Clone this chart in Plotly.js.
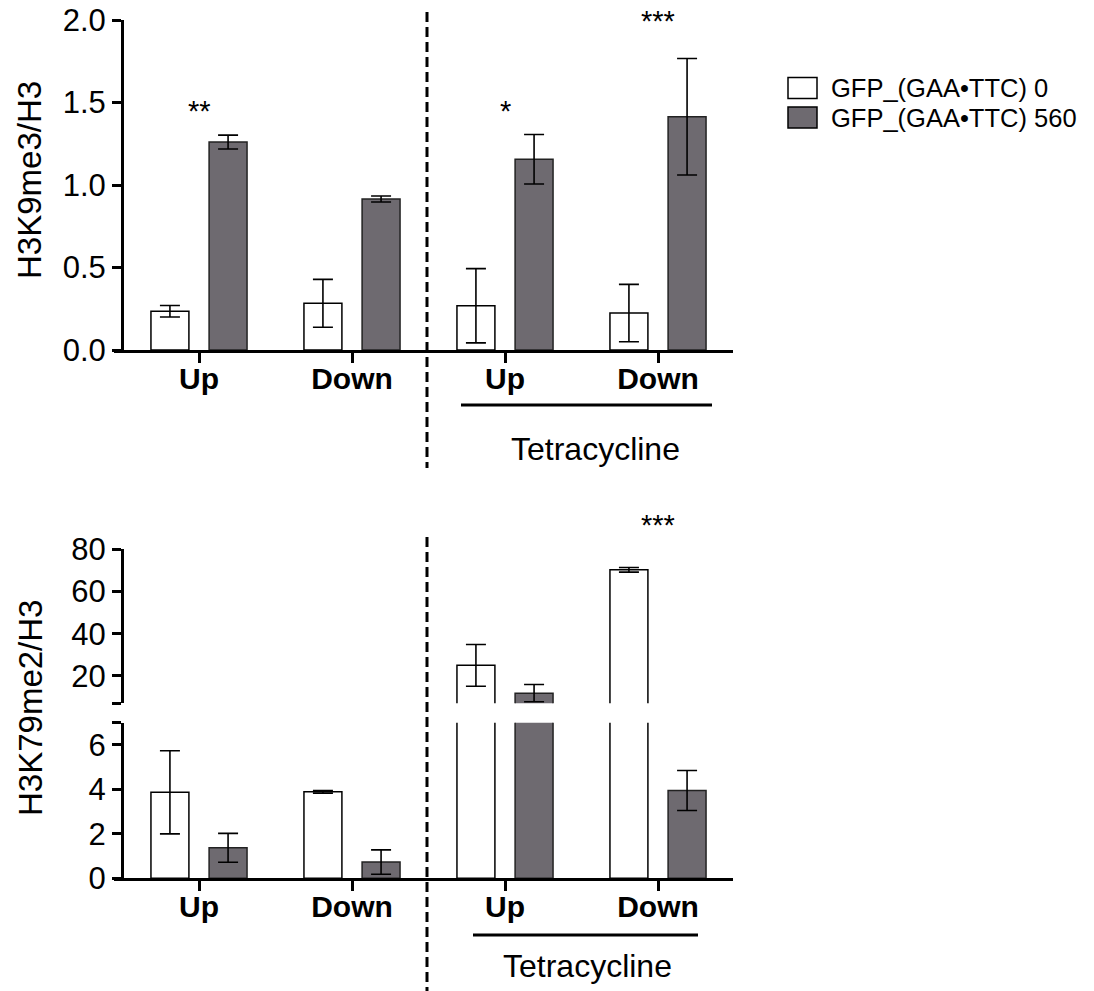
<!DOCTYPE html>
<html>
<head>
<meta charset="utf-8">
<script src="https://cdn.plot.ly/plotly-3.0.1.min.js"></script>
<style>html,body{margin:0;padding:0;background:#fff;}#chart{width:1094px;height:991px;}</style>
</head>
<body>
<div id="chart"></div>
<script>
// ---- data ----
const categories = ['Up', 'Down', 'Up', 'Down'];
const seriesNames = ['GFP_(GAA•TTC) 0', 'GFP_(GAA•TTC) 560'];
const groupLabel = 'Tetracycline';
const k9Title = 'H3K9me3/H3';
const k79Title = 'H3K79me2/H3';

const k9_gfp0 = [0.235, 0.283, 0.268, 0.224];
const k9_gfp0_err = [0.035, 0.145, 0.225, 0.174];
const k9_gfp560 = [1.26, 0.915, 1.156, 1.414];
const k9_gfp560_err = [0.042, 0.018, 0.15, 0.353];

const k79_gfp0 = [3.87, 3.89, 25.0, 70.3];
const k79_gfp0_err = [1.87, 0.06, 9.9, 1.1];
const k79_gfp560 = [1.37, 0.73, 11.8, 3.95];
const k79_gfp560_err = [0.65, 0.55, 4.1, 0.9];

const k9_sig = ['**', '', '*', '***'];
const k79_sig = ['', '', '', '***'];

const k9TickVals = [0, 0.5, 1.0, 1.5, 2.0];
const k79UpperTicks = [20, 40, 60, 80];
const k79LowerTicks = [0, 2, 4, 6];

// ---- layout helpers (pixel -> paper) ----
const W = 1094, H = 991;
const px = v => v / W;
const py = v => 1 - v / H;
const FONT = 'Liberation Sans, Arial, Helvetica, sans-serif';
const GRAY = '#6e6a70';
const xs = categories.map((_, i) => i);

function bar(name, y, err, color, lineColor, xa, ya) {
  return {
    type: 'bar', name: name, x: xs, y: y,
    xaxis: xa, yaxis: ya, showlegend: false,
    marker: { color: color, line: { color: lineColor, width: 1.5 } },
    error_y: { type: 'data', array: err, visible: true, color: '#000', thickness: 1.6, width: 10 },
    hoverinfo: 'skip'
  };
}

const data = [
  bar(seriesNames[0], k9_gfp0, k9_gfp0_err, '#ffffff', '#000', 'x', 'y'),
  bar(seriesNames[1], k9_gfp560, k9_gfp560_err, GRAY, '#222', 'x', 'y'),
  bar(seriesNames[0], k79_gfp0, k79_gfp0_err, '#ffffff', '#000', 'x2', 'y2'),
  bar(seriesNames[1], k79_gfp560, k79_gfp560_err, GRAY, '#222', 'x2', 'y2'),
  bar(seriesNames[0], k79_gfp0, k79_gfp0_err, '#ffffff', '#000', 'x2', 'y3'),
  bar(seriesNames[1], k79_gfp560, k79_gfp560_err, GRAY, '#222', 'x2', 'y3')
];

const xRange = [-85 / 153, 534 / 153];
const xDomain = [px(114), px(733)];
const axisLine = { showline: true, linecolor: '#000', linewidth: 3, showgrid: false, zeroline: false, ticks: 'outside', tickcolor: '#000', tickwidth: 3 };

function xAxis(anchor) {
  return Object.assign({}, axisLine, {
    domain: xDomain, range: xRange, anchor: anchor, ticklen: 10,
    tickmode: 'array', tickvals: xs, ticktext: categories,
    tickfont: { family: FONT, size: 30, color: '#000', weight: 'bold' },
    ticklabelstandoff: -10,
    automargin: false, fixedrange: true
  });
}
function yAxis(domain, range, vals, text) {
  return Object.assign({}, axisLine, {
    domain: domain, range: range, anchor: 'free', position: px(122), ticklen: 9,
    tickmode: 'array', tickvals: vals, ticktext: text,
    tickfont: { family: FONT, size: 31, color: '#000' },
    automargin: false, fixedrange: true
  });
}

const shapes = [];
const annotations = [];
// dashed separators
shapes.push({ type: 'line', xref: 'paper', yref: 'paper', x0: px(427), x1: px(427), y0: py(12), y1: py(468), line: { color: '#000', width: 3, dash: '10px,5px' } });
shapes.push({ type: 'line', xref: 'paper', yref: 'paper', x0: px(427), x1: px(427), y0: py(537), y1: py(991), line: { color: '#000', width: 3, dash: '10px,5px' } });
// tetracycline bars
shapes.push({ type: 'line', xref: 'paper', yref: 'paper', x0: px(461), x1: px(712), y0: py(405), y1: py(405), line: { color: '#000', width: 3 } });
shapes.push({ type: 'line', xref: 'paper', yref: 'paper', x0: px(473), x1: px(698), y0: py(935), y1: py(935), line: { color: '#000', width: 3 } });
annotations.push({ text: groupLabel, xref: 'paper', yref: 'paper', x: px(595), y: py(449), showarrow: false, xanchor: 'center', yanchor: 'middle', font: { family: FONT, size: 32, color: '#000' } });
annotations.push({ text: groupLabel, xref: 'paper', yref: 'paper', x: px(587), y: py(966), showarrow: false, xanchor: 'center', yanchor: 'middle', font: { family: FONT, size: 32, color: '#000' } });
// y titles
annotations.push({ text: k9Title, xref: 'paper', yref: 'paper', x: px(29), y: py(180), textangle: -90, showarrow: false, xanchor: 'center', yanchor: 'middle', font: { family: FONT, size: 33, color: '#000' } });
annotations.push({ text: k79Title, xref: 'paper', yref: 'paper', x: px(30), y: py(708), textangle: -90, showarrow: false, xanchor: 'center', yanchor: 'middle', font: { family: FONT, size: 33, color: '#000' } });
// significance stars
const k9StarY = [111, null, 111, 21];
k9_sig.forEach((s, i) => { if (s) annotations.push({ text: s, xref: 'x', yref: 'paper', x: i, y: py(k9StarY[i]), showarrow: false, xanchor: 'center', yanchor: 'middle', font: { family: FONT, size: 29, color: '#000' } }); });
const k79StarY = [null, null, null, 525];
k79_sig.forEach((s, i) => { if (s) annotations.push({ text: s, xref: 'x2', yref: 'paper', x: i, y: py(k79StarY[i]), showarrow: false, xanchor: 'center', yanchor: 'middle', font: { family: FONT, size: 29, color: '#000' } }); });
// legend
const legendColors = ['#ffffff', GRAY];
const legendRows = [88, 117.5];
seriesNames.forEach((n, i) => {
  shapes.push({ type: 'rect', xref: 'paper', yref: 'paper', x0: px(788), x1: px(817), y0: py(legendRows[i] - 10.5), y1: py(legendRows[i] + 10.5), fillcolor: legendColors[i], line: { color: '#000', width: 1.5 } });
  annotations.push({ text: n, xref: 'paper', yref: 'paper', x: px(829), y: py(legendRows[i]), showarrow: false, xanchor: 'left', yanchor: 'middle', font: { family: FONT, size: 25.5, color: '#000' } });
});

const layout = {
  width: W, height: H,
  margin: { l: 0, r: 0, t: 0, b: 0 },
  paper_bgcolor: '#fff', plot_bgcolor: 'rgba(0,0,0,0)',
  barmode: 'group', bargap: 0.24, bargroupgap: 0.347,
  showlegend: false,
  font: { family: FONT, color: '#000' },
  xaxis: xAxis('y'),
  yaxis: yAxis([py(350), py(20)], [0, 2], k9TickVals, k9TickVals.map(v => v.toFixed(1))),
  xaxis2: xAxis('y3'),
  yaxis2: yAxis([py(703.3), py(549.3)], [7, 80], [7].concat(k79UpperTicks), [''].concat(k79UpperTicks.map(String))),
  yaxis3: yAxis([py(878.3), py(722.7)], [0, 7], k79LowerTicks.concat([7]), k79LowerTicks.map(String).concat([''])),
  shapes: shapes,
  annotations: annotations
};

Plotly.newPlot('chart', data, layout, { displayModeBar: false, staticPlot: true });
</script>
</body>
</html>
